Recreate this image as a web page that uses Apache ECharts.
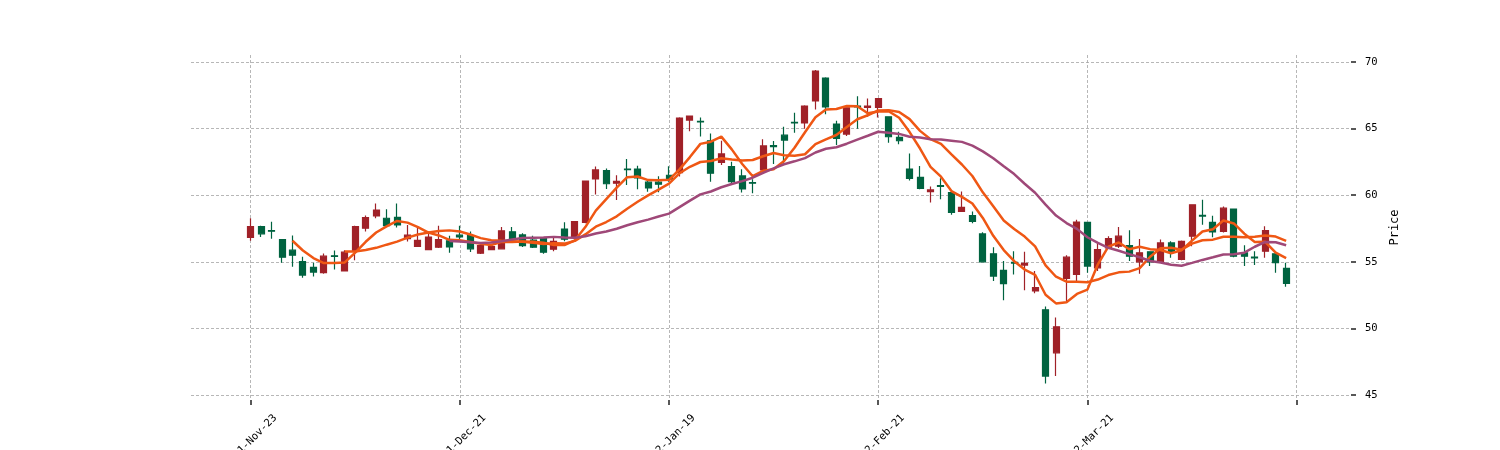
<!DOCTYPE html>
<html><head><meta charset="utf-8">
<script src="https://cdn.jsdelivr.net/npm/echarts@6/dist/echarts.min.js"></script>
<style>html,body{margin:0;padding:0;background:#fff}#c{width:1500px;height:450px}</style>
</head><body><div id="c"></div>
<script>
const opens = [56.83,57.65,57.35,56.66,55.87,55.02,54.58,54.18,55.45,54.31,
55.84,57.52,58.44,58.27,58.34,56.73,56.16,55.92,56.09,56.58,
57.00,56.96,55.64,55.92,55.97,57.25,57.02,56.62,56.77,55.95,
57.46,56.86,57.95,61.22,61.84,60.90,61.97,61.97,60.98,60.98,
61.50,61.70,65.64,65.55,64.09,62.47,62.14,61.45,60.95,61.90,
63.72,64.51,65.48,65.43,67.08,68.80,65.34,64.59,66.70,66.60,
66.60,65.89,64.34,61.97,61.34,60.27,60.72,60.20,58.78,58.46,
57.09,55.60,54.35,54.95,54.75,52.81,51.39,48.16,53.76,54.05,
57.96,54.55,56.04,56.17,56.22,55.00,55.75,55.00,56.42,55.17,
56.92,58.48,57.96,57.29,58.96,55.67,55.35,55.80,55.60,54.50];
const closes = [57.65,57.10,57.30,55.35,55.50,54.00,54.23,55.42,55.40,55.72,
57.65,58.32,58.89,57.72,57.77,57.00,56.61,56.86,56.66,56.11,
56.86,55.97,56.21,56.14,57.33,56.75,56.22,56.10,55.72,56.53,
56.70,58.02,61.06,61.90,60.86,61.04,61.92,61.30,60.55,60.83,
61.20,65.80,65.94,65.50,61.65,63.10,61.02,60.47,60.90,63.70,
63.65,64.14,65.43,66.70,69.33,66.63,64.26,66.56,66.63,66.70,
67.26,64.39,64.09,61.27,60.52,60.40,60.67,58.70,59.08,58.03,
55.00,53.93,53.36,54.90,54.88,53.06,46.42,50.12,55.35,57.98,
54.68,55.92,56.74,56.92,55.42,55.67,55.00,56.42,55.72,56.54,
59.28,58.43,57.24,59.03,55.42,55.42,55.30,57.34,54.93,53.38];
const lows = [56.58,56.86,56.73,54.93,54.63,53.81,53.89,54.10,54.43,54.31,
55.12,57.28,58.27,57.65,57.57,56.53,56.11,55.92,56.04,55.67,
56.66,55.74,55.59,55.87,55.92,56.53,56.11,56.04,55.60,55.79,
56.55,56.80,57.90,60.06,60.47,59.64,60.77,60.45,60.26,60.22,
61.02,61.40,64.81,64.40,61.02,62.27,60.90,60.20,60.15,61.77,
62.34,62.39,64.70,65.00,66.43,66.08,63.77,64.44,65.00,65.89,
65.84,63.94,63.82,61.10,60.45,59.45,59.70,58.53,58.78,57.90,
55.00,53.56,52.11,54.05,52.86,52.64,45.85,46.42,52.06,53.43,
54.18,54.30,55.97,56.04,55.05,54.10,54.68,54.93,55.30,55.12,
56.17,57.79,56.84,57.20,55.35,54.68,54.75,55.30,54.18,53.13];
const highs = [58.27,57.70,58.00,56.70,56.98,55.37,54.93,55.62,55.84,55.87,
57.70,58.47,59.38,58.94,59.38,57.77,57.65,57.28,57.70,56.96,
57.70,57.28,56.29,56.29,57.62,57.62,57.15,56.96,56.80,56.82,
57.96,58.07,61.10,62.16,62.00,61.50,62.72,62.21,61.18,61.42,
62.18,65.85,65.97,65.83,64.64,64.09,62.52,61.95,61.20,64.21,
64.07,65.14,66.20,66.75,69.40,68.85,65.59,66.58,67.43,67.26,
67.30,65.90,64.76,63.13,62.19,60.65,61.27,60.25,60.27,58.78,
57.21,56.10,55.05,55.80,55.75,54.30,51.64,50.82,55.50,58.16,
58.00,56.37,56.92,57.61,57.36,56.72,55.80,56.67,56.54,56.60,
59.30,59.65,58.46,59.15,59.00,56.24,55.80,57.66,55.62,54.92];
const tickValues = [0,20,40,60,80,100];
const tickLabels = ['2021-Nov-23','2021-Dec-21','2022-Jan-19','2022-Feb-21','2022-Mar-21',''];
const priceTicks = [45,50,55,60,65,70];
const maPeriods = [5,10,20];
const maColors = ['#ef5714','#ef5714','#9f4878'];

function movingAverage(n){
  const out=[];
  for(let i=n-1;i<closes.length;i++){
    let s=0; for(let j=i-n+1;j<=i;j++) s+=closes[j];
    out.push([i, s/n]);
  }
  return out;
}

const gridLine = {show:true, lineStyle:{color:'#a5a5a5', width:0.8, type:[3,2]}};
const tickStyle = {color:'#222', width:1.5};

const series = [{
  type:'candlestick',
  data: opens.map((o,i)=>[i,o,closes[i],lows[i],highs[i]]),
  encode:{x:0, y:[1,2,3,4]},
  barWidth:6.5,
  itemStyle:{color:'#a02128', color0:'#006340', borderColor:'#a02128', borderColor0:'#006340', borderWidth:1.2},
  z:2
}];
maPeriods.forEach((n,k)=>{
  series.push({type:'line', data:movingAverage(n), showSymbol:false, symbol:'none',
    lineStyle:{color:maColors[k], width:2.5}, z:3+k});
});

const chart = echarts.init(document.getElementById('c'), null, {renderer:'canvas'});
chart.setOption({
  animation:false,
  backgroundColor:'#fff',
  grid:{left:191, right:149, top:55, bottom:50, containLabel:false, outerBoundsMode:'none'},
  xAxis:{type:'value', min:-5.7, max:105.2,
    axisLine:{show:false, onZero:false},
    axisTick:{show:true, customValues:tickValues, length:5, lineStyle:tickStyle},
    axisLabel:{customValues:tickValues, formatter:v=>{const k=tickValues.indexOf(v);return k>=0?tickLabels[k]:'';},
      rotate:45, align:'center', verticalAlign:'middle', margin:41,
      fontFamily:'DejaVu Sans Mono', fontSize:10.5, color:'#000'},
    splitLine:gridLine},
  yAxis:{type:'value', position:'right', min:44.62, max:70.53, scale:true,
    name:'Price', nameLocation:'middle', nameRotate:90, nameGap:36,
    nameTextStyle:{fontFamily:'DejaVu Sans Mono', fontSize:12, color:'#000'},
    axisLine:{show:false, onZero:false},
    axisTick:{show:true, customValues:priceTicks, length:5, lineStyle:tickStyle},
    axisLabel:{customValues:priceTicks, margin:14, fontFamily:'DejaVu Sans Mono', fontSize:10.5, color:'#000'},
    splitLine:gridLine},
  series:series
});
</script></body></html>
